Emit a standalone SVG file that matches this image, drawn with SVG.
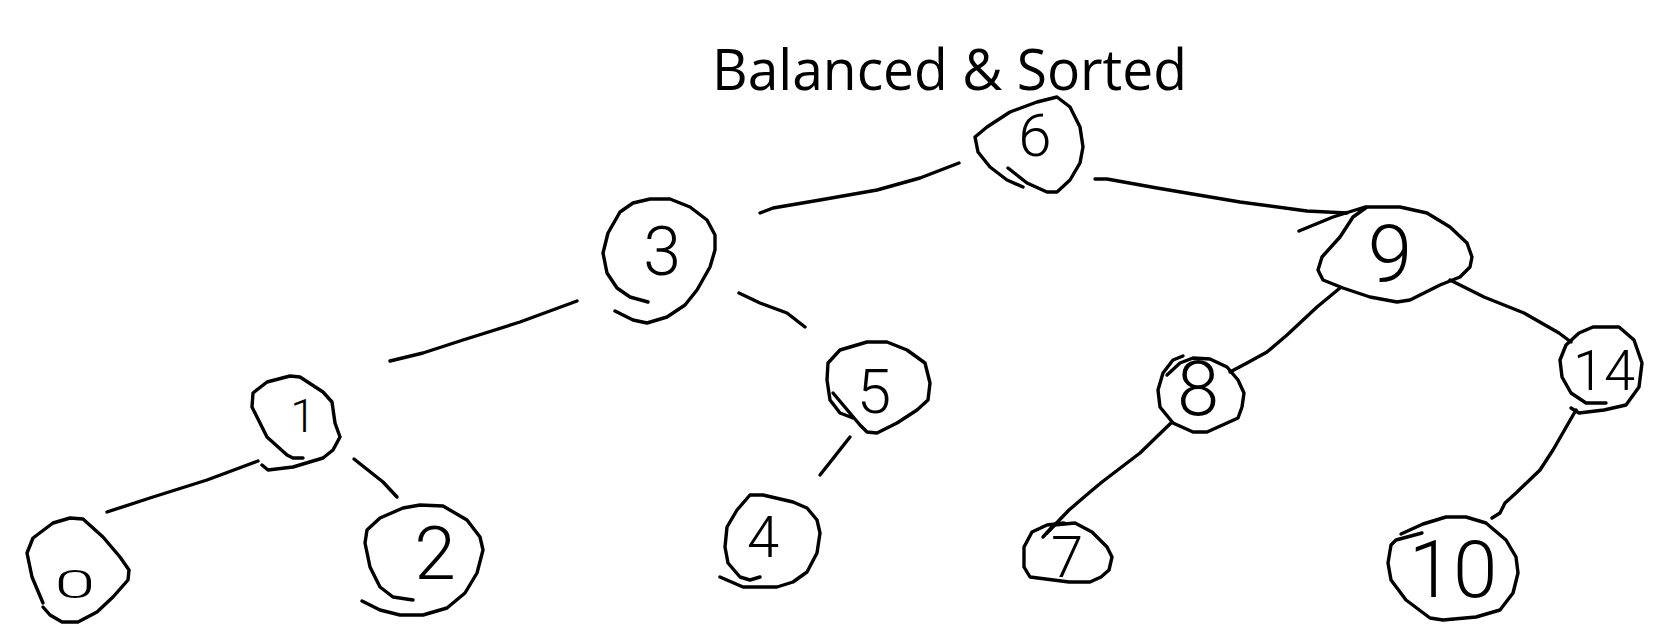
<svg xmlns="http://www.w3.org/2000/svg" width="1673" height="643" viewBox="0 0 1673 643">
<style>
.s{fill:none;stroke:#000;stroke-width:3.4;stroke-linecap:round;stroke-linejoin:round}
.d{font-family:Roboto,"Liberation Sans",sans-serif;font-weight:300;text-anchor:middle;fill:#000}
.t{font-family:"Open Sans","Noto Sans","Liberation Sans",sans-serif;font-size:57px;fill:#000}
</style>
<rect width="1673" height="643" fill="#fff"/>
<text class="t" x="712" y="90" textLength="475" lengthAdjust="spacingAndGlyphs">Balanced &amp; Sorted</text>
<g id="connectors">
<path class="s" d="M760,213 L773,208 L820,200 L877,190 L920,178 L959,163"/>
<path class="s" d="M1095,179 L1107,179 L1157,188 L1240,202 L1307,211 L1347,213"/>
<path class="s" d="M390,361 L423,353 L463,340 L520,322 L577,301"/>
<path class="s" d="M739,293 L760,303 L787,313 L805,327"/>
<path class="s" d="M258,461 L207,480 L153,497 L107,512"/>
<path class="s" d="M354,459 L383,482 L397,497"/>
<path class="s" d="M850,437 L820,475"/>
<path class="s" d="M1340,288 L1317,307 L1287,335 L1267,352 L1247,363 L1230,372"/>
<path class="s" d="M1450,280 L1484,297 L1524,313 L1559,333 L1571,342"/>
<path class="s" d="M1172,422 L1140,453 L1102,482 L1090,492 L1069,510 L1047,533"/>
<path class="s" d="M1576,410 L1553,450 L1540,470 L1516,493 L1505,503 L1500,513 L1492,518"/>
</g>
<g id="node-6">
<path class="s" d="M1023,187 L1007,180 L990,167 L978,152 L975,137 L987,127 L1010,112 L1037,102 L1057,97 L1070,107 L1080,127 L1083,147 L1080,163 L1070,180 L1057,192 L1047,192 L1027,183 L1008,168"/>
<text class="d" x="1035" y="156" font-size="60">6</text>
</g>
<g id="node-3">
<path class="s" d="M648,302 L630,297 L617,288 L607,273 L603,253 L608,233 L620,212 L633,203 L650,199 L670,199 L690,207 L707,220 L715,235 L715,250 L710,267 L697,290 L685,305 L667,317 L647,323 L633,320 L615,311"/>
<text class="d" x="662" y="275" font-size="68">3</text>
</g>
<g id="node-9">
<path class="s" d="M1299,231 L1333,217 L1365,207 L1373,207 L1400,207 L1427,213 L1450,227 L1467,243 L1472,257 L1470,267 L1460,277 L1440,285 L1410,300 L1397,302 L1370,297 L1343,288 L1323,280 L1318,270 L1322,257 L1340,237 L1353,217 L1367,207"/>
<text class="d" x="1390" y="282" font-size="80">9</text>
</g>
<g id="node-1">
<path class="s" d="M303,458 L293,458 L287,455 L267,437 L252,407 L253,393 L267,382 L290,376 L300,377 L323,392 L332,402 L335,423 L340,437 L333,450 L323,458 L293,467 L268,470 L262,465"/>
<text class="d" x="303" y="432" font-size="46">1</text>
</g>
<g id="node-5">
<path class="s" d="M833,393 L860,425 L867,432 L877,433 L897,423 L917,410 L928,400 L930,383 L925,363 L907,350 L887,342 L867,342 L840,350 L828,363 L827,380 L830,400 L840,413 L853,418"/>
<text class="d" x="874" y="413" font-size="62">5</text>
</g>
<g id="node-8">
<path class="s" d="M1183,356 L1173,360 L1163,373 L1158,390 L1160,407 L1173,423 L1193,432 L1207,432 L1227,423 L1238,418 L1242,407 L1244,393 L1238,380 L1227,367 L1210,359 L1193,358 L1180,363 L1167,375"/>
<text class="d" x="1198" y="415" font-size="76">8</text>
</g>
<g id="node-14">
<path class="s" d="M1606,403 L1586,403 L1571,393 L1562,377 L1560,360 L1566,345 L1579,333 L1593,327 L1619,327 L1634,340 L1642,363 L1639,387 L1626,405 L1604,410 L1579,413 L1571,408"/>
<text class="d" x="1604" y="390" font-size="56">14</text>
</g>
<g id="node-0">
<path class="s" d="M43,603 L32,577 L27,553 L33,538 L53,523 L70,518 L83,519 L103,537 L120,557 L129,570 L128,580 L113,597 L97,612 L78,622 L62,622 L50,615 L43,607"/>
<text class="d" x="0" y="0" font-size="46" transform="translate(75,598) scale(1.6,0.85)">0</text>
</g>
<g id="node-2">
<path class="s" d="M413,600 L393,597 L380,587 L370,567 L365,543 L367,530 L380,518 L403,508 L420,505 L443,506 L467,520 L480,537 L483,550 L477,573 L465,593 L447,608 L423,615 L400,615 L380,610 L362,601"/>
<text class="d" x="435" y="579" font-size="75">2</text>
</g>
<g id="node-4">
<path class="s" d="M760,577 L750,580 L740,577 L728,563 L725,547 L727,527 L737,510 L750,495 L763,495 L793,502 L807,508 L817,520 L820,533 L817,553 L807,572 L793,582 L777,587 L743,587 L720,577"/>
<text class="d" x="763" y="557" font-size="58">4</text>
</g>
<g id="node-7">
<path class="s" d="M1043,537 L1054,525 L1075,523 L1092,532 L1107,547 L1112,557 L1109,570 L1101,577 L1090,582 L1069,582 L1030,577 L1024,567 L1024,547 L1032,532 L1047,525 L1064,523"/>
<text class="d" x="1067" y="577" font-size="58">7</text>
</g>
<g id="node-10">
<path class="s" d="M1401,534 L1423,524 L1446,517 L1466,517 L1486,523 L1506,540 L1516,557 L1518,573 L1513,593 L1500,610 L1476,617 L1443,620 L1430,618 L1406,600 L1391,580 L1388,563 L1391,545 L1396,540 L1422,533"/>
<text class="d" x="1453" y="597" font-size="80">10</text>
</g>
</svg>
